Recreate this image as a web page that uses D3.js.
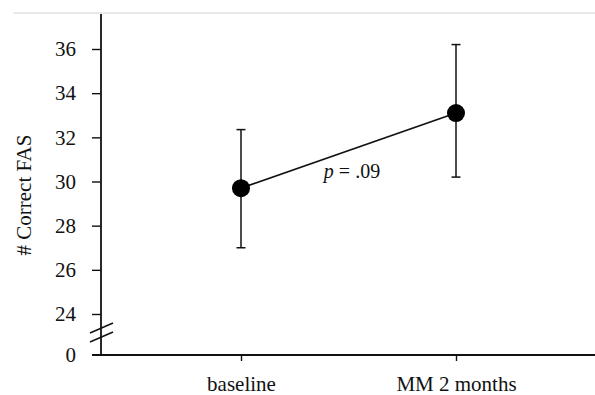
<!DOCTYPE html>
<html>
<head>
<meta charset="utf-8">
<script src="https://cdn.jsdelivr.net/npm/d3@7"></script>
<style>
  body { margin: 0; background: #fff; }
  svg text { font-family: "Liberation Serif", "Times New Roman", serif; fill: #111; }
</style>
</head>
<body>
<svg id="chart" width="595" height="395"></svg>
<script>
// Data
const categories = ["baseline", "MM 2 months"];
const means = [29.7, 33.1];
const upper = [32.35, 36.2];
const lower = [27.0, 30.2];
const yTicks = [24, 26, 28, 30, 32, 34, 36];
const pLabel = ".09";

const svg = d3.select("#chart");
const serif = "'Liberation Serif', 'Times New Roman', serif";

const axisX = 101;
const baseY = 355;

// Scales
const y = d3.scaleLinear().domain([24, 36]).range([314, 49]);
const x = d3.scalePoint().domain(categories).range([241, 456]);

// Faint rule across the top
svg.append("line")
    .attr("x1", 13).attr("x2", 595)
    .attr("y1", 13).attr("y2", 13)
    .attr("stroke", "#d6d6d6")
    .attr("stroke-width", 1.2);

// Y axis
const yAxis = svg.append("g")
    .attr("transform", `translate(${axisX},0)`)
    .call(d3.axisLeft(y).tickValues(yTicks).tickSize(9).tickPadding(16).tickFormat(d3.format("d")))
    .attr("font-family", serif)
    .attr("font-size", 21);
yAxis.select(".domain").remove();
yAxis.selectAll(".tick line").attr("stroke", "#111").attr("stroke-width", 1.4);

// Axis line down to the zero baseline
svg.append("line")
    .attr("x1", axisX).attr("x2", axisX)
    .attr("y1", 14).attr("y2", baseY)
    .attr("stroke", "#111").attr("stroke-width", 1.8);

// Zero tick label below the break
svg.append("text")
    .attr("x", axisX - 25).attr("y", baseY)
    .attr("dy", "0.32em")
    .attr("text-anchor", "end")
    .style("font-size", "21px")
    .text("0");

// Break marks
[0, 9].forEach(off => {
    svg.append("line")
        .attr("x1", 90).attr("y1", 333 + off)
        .attr("x2", 113).attr("y2", 323 + off)
        .attr("stroke", "#111").attr("stroke-width", 1.5);
});

// X axis
svg.append("line")
    .attr("x1", 92).attr("x2", 595)
    .attr("y1", baseY).attr("y2", baseY)
    .attr("stroke", "#111").attr("stroke-width", 1.8);

const xAxis = svg.append("g")
    .attr("transform", `translate(0,${baseY})`)
    .call(d3.axisBottom(x).tickSize(6))
    .attr("font-family", serif)
    .attr("font-size", 21);
xAxis.select(".domain").remove();
xAxis.selectAll(".tick line").attr("stroke", "#111").attr("stroke-width", 1.4);
xAxis.selectAll(".tick text").attr("y", 36).attr("dy", 0);

// Y axis title
svg.append("text")
    .attr("transform", `translate(31,195) rotate(-90)`)
    .attr("text-anchor", "middle")
    .style("font-size", "21px")
    .text("# Correct FAS");

// Error bars
const bars = svg.append("g");
categories.forEach((c, i) => {
    const cx = x(c);
    bars.append("line")
        .attr("x1", cx).attr("x2", cx)
        .attr("y1", y(upper[i])).attr("y2", y(lower[i]))
        .attr("stroke", "#111").attr("stroke-width", 1.5);
    [upper[i], lower[i]].forEach(v => {
        bars.append("line")
            .attr("x1", cx - 4.5).attr("x2", cx + 4.5)
            .attr("y1", y(v)).attr("y2", y(v))
            .attr("stroke", "#111").attr("stroke-width", 1.5);
    });
});

// Connecting line
const pts = categories.map((c, i) => [x(c), y(means[i])]);
svg.append("path")
    .attr("d", d3.line()(pts))
    .attr("fill", "none")
    .attr("stroke", "#111")
    .attr("stroke-width", 1.7);

// Points
svg.append("g")
    .selectAll("circle")
    .data(pts)
    .join("circle")
    .attr("cx", d => d[0])
    .attr("cy", d => d[1])
    .attr("r", 9)
    .attr("fill", "#000");

// p-value label
const pText = svg.append("text")
    .attr("x", 352).attr("y", 178)
    .attr("text-anchor", "middle")
    .style("font-size", "20px");
pText.append("tspan").style("font-style", "italic").text("p");
pText.append("tspan").text(" = " + pLabel);
</script>
</body>
</html>
